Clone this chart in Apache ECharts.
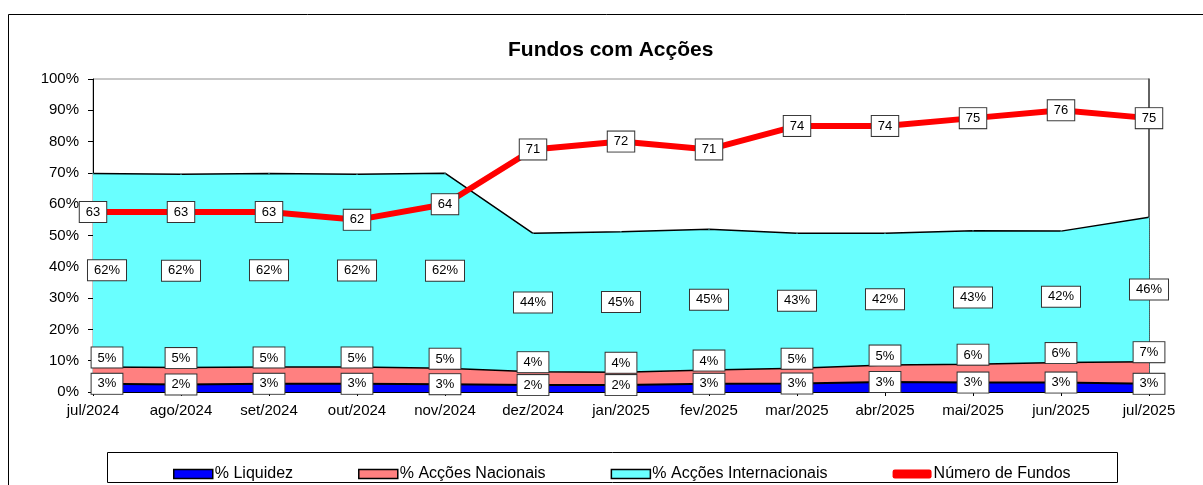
<!DOCTYPE html>
<html>
<head>
<meta charset="utf-8">
<script src="https://cdn.jsdelivr.net/npm/echarts@6/dist/echarts.min.js"></script>
<style>
  html, body { margin: 0; padding: 0; background: #fff; }
  #main { width: 1203px; height: 485px; }
</style>
</head>
<body>
<div id="main"></div>
<script>
const months = ['jul/2024', 'ago/2024', 'set/2024', 'out/2024', 'nov/2024', 'dez/2024', 'jan/2025',
  'fev/2025', 'mar/2025', 'abr/2025', 'mai/2025', 'jun/2025', 'jul/2025'];
const liquidez = [2.6, 2.4, 2.6, 2.6, 2.5, 2.2, 2.2, 2.6, 2.7, 3.2, 3.0, 3.0, 2.6];
const nacionais = [5.4, 5.4, 5.4, 5.4, 5.1, 4.3, 4.1, 4.4, 4.9, 5.4, 5.9, 6.4, 7.1];
const internacionais = [61.8, 61.8, 61.8, 61.6, 62.3, 44.2, 44.9, 45.0, 43.1, 42.1, 42.6, 42.0, 46.1];
const fundos = [63, 63, 63, 62, 64, 71, 72, 71, 74, 74, 75, 76, 75];

const FONT = 'Liberation Sans';

// top of the stack and middle of the internacionais band (drop lines / labels)
const stackTop = months.map((m, i) => liquidez[i] + nacionais[i] + internacionais[i]);
const interMid = months.map((m, i) => liquidez[i] + nacionais[i] + internacionais[i] / 2);

const boxLabel = {
  show: true,
  color: '#000',
  fontFamily: FONT,
  fontSize: 13,
  backgroundColor: '#fff',
  borderColor: '#333',
  borderWidth: 1,
  padding: [4, 6, 3, 6]
};
const pct = p => Math.round(p.value) + '%';
// Excel keeps the first labels inside the plot area
const shiftFirst = p => (p.dataIndex === 0 ? { dx: 14 } : {});

const myChart = echarts.init(document.querySelector('#main'));
const option = {
  animation: false,
  title: {
    text: 'Fundos com Acções',
    left: 503,
    top: 35,
    textStyle: { fontFamily: FONT, fontSize: 21, fontWeight: 'bold', color: '#000' }
  },
  graphic: [
    {
      type: 'rect',
      shape: { x: 8.5, y: 14.5, width: 1300, height: 600 },
      style: { fill: 'none', stroke: '#000', lineWidth: 1 },
      silent: true
    },
    {
      type: 'rect',
      shape: { x: 107.5, y: 452.5, width: 1010, height: 30 },
      style: { fill: 'none', stroke: '#000', lineWidth: 1 },
      silent: true
    }
  ],
  legend: {
    left: 168,
    top: 461,
    itemWidth: 39,
    itemHeight: 9,
    itemGap: 65,
    textStyle: { fontFamily: FONT, fontSize: 16, color: '#000', padding: [0, 0, 0, -3] },
    data: [
      { name: '% Liquidez', icon: 'rect', itemStyle: { borderColor: '#000', borderWidth: 1.5 } },
      { name: '% Acções Nacionais', icon: 'rect', itemStyle: { borderColor: '#000', borderWidth: 1.5 } },
      { name: '% Acções Internacionais', icon: 'rect', itemStyle: { borderColor: '#000', borderWidth: 1.5 } },
      { name: 'Número de Fundos', icon: 'roundRect', itemStyle: { borderWidth: 0 } }
    ]
  },
  grid: {
    left: 93,
    right: 54,
    top: 79,
    bottom: 93,
    show: true,
    borderColor: '#909090',
    borderWidth: 1
  },
  xAxis: {
    type: 'category',
    data: months,
    boundaryGap: false,
    axisLine: { lineStyle: { color: '#000', width: 1 } },
    axisTick: { show: true, length: 4, lineStyle: { color: '#000' } },
    axisLabel: { fontFamily: FONT, fontSize: 15, color: '#000', margin: 11 },
    splitLine: { show: false }
  },
  yAxis: [
    {
      type: 'value',
      min: 0,
      max: 100,
      interval: 10,
      axisLine: { show: true, lineStyle: { color: '#000', width: 1 } },
      axisTick: { show: true, length: 5, lineStyle: { color: '#000' } },
      axisLabel: { fontFamily: FONT, fontSize: 15, color: '#000', margin: 14, formatter: '{value}%' },
      splitLine: { show: false }
    },
    {
      type: 'value',
      min: 40,
      max: 80,
      position: 'right',
      axisLine: { show: true, lineStyle: { color: '#404040', width: 1.5 } },
      axisTick: { show: false },
      axisLabel: { show: false },
      splitLine: { show: false }
    }
  ],
  series: [
    {
      name: '% Liquidez',
      type: 'line',
      stack: 'total',
      data: liquidez,
      symbol: 'circle',
      symbolSize: 1,
      itemStyle: { color: '#0000ff' },
      lineStyle: { color: '#000', width: 2 },
      areaStyle: { color: '#0000ff', opacity: 1 },
      label: Object.assign({}, boxLabel, { position: 'inside', formatter: pct }),
      labelLayout: shiftFirst,
      z: 3
    },
    {
      name: '% Acções Nacionais',
      type: 'line',
      stack: 'total',
      data: nacionais,
      symbol: 'circle',
      symbolSize: 1,
      itemStyle: { color: '#ff8080' },
      lineStyle: { color: '#000', width: 1.5 },
      areaStyle: { color: '#ff8080', opacity: 1 },
      label: Object.assign({}, boxLabel, { position: 'top', distance: -1, formatter: pct }),
      labelLayout: shiftFirst,
      z: 3
    },
    {
      name: '% Acções Internacionais',
      type: 'line',
      stack: 'total',
      data: internacionais,
      symbol: 'circle',
      symbolSize: 1,
      itemStyle: { color: '#69ffff' },
      lineStyle: { color: '#000', width: 1.5 },
      areaStyle: { color: '#69ffff', opacity: 1 },
      markLine: {
        silent: true,
        z: 2,
        symbol: ['none', 'none'],
        label: { show: false },
        lineStyle: { color: '#2b6d6d', type: 'dotted', width: 1 },
        data: months.map((m, i) => [{ coord: [m, 0] }, { coord: [m, stackTop[i]] }])
      },
      z: 2
    },
    {
      name: 'labels internacionais',
      type: 'line',
      data: interMid,
      symbol: 'circle',
      symbolSize: 1,
      itemStyle: { color: 'transparent' },
      lineStyle: { width: 0, opacity: 0 },
      label: Object.assign({}, boxLabel, {
        position: 'inside',
        formatter: p => Math.round(internacionais[p.dataIndex]) + '%'
      }),
      labelLayout: shiftFirst,
      z: 4
    },
    {
      name: 'Número de Fundos',
      type: 'line',
      yAxisIndex: 1,
      data: fundos,
      symbol: 'circle',
      symbolSize: 1,
      itemStyle: { color: '#ff0000' },
      lineStyle: { color: '#ff0000', width: 6 },
      label: Object.assign({}, boxLabel, { position: 'inside' }),
      z: 5
    }
  ]
};
option && myChart.setOption(option);
</script>
</body>
</html>
